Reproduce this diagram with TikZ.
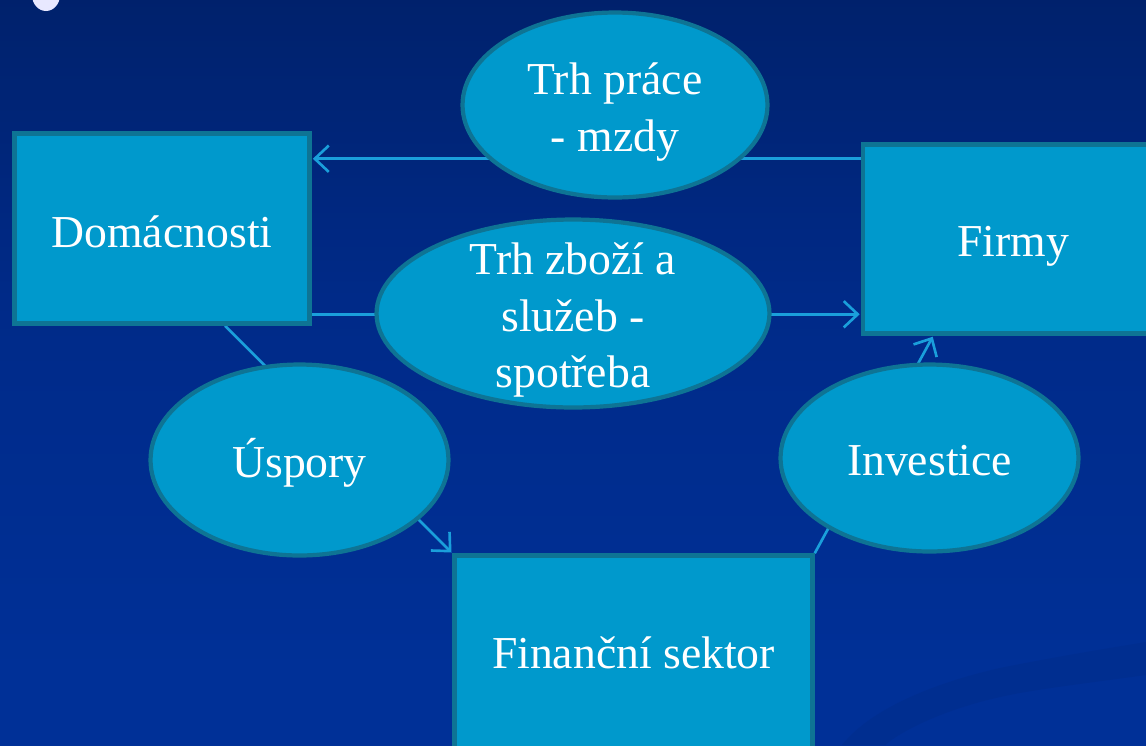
\documentclass[tikz,border=0pt]{standalone}
\usepackage{fontspec}
\setmainfont{Liberation Serif}
\usetikzlibrary{shapes.geometric,arrows.meta,calc}
\definecolor{boxfill}{HTML}{0099CC}
\definecolor{boxedge}{HTML}{0E7494}
\definecolor{conncol}{HTML}{1A9FDB}
\definecolor{bgA}{HTML}{00123E}
\definecolor{bgB}{HTML}{002068}
\definecolor{bgC}{HTML}{002A88}
\definecolor{bgD}{HTML}{003097}
\definecolor{bgE}{HTML}{003399}
\definecolor{arccol}{HTML}{002E90}
\definecolor{lav}{HTML}{E8E8FF}
\pgfdeclarelayer{back}
\pgfdeclarelayer{mid}
\pgfsetlayers{back,mid,main}
\pgfdeclareverticalshading{bgsh}{100bp}{color(0bp)=(bgE); color(30bp)=(bgD); color(55bp)=(bgC); color(78bp)=(bgB); color(100bp)=(bgA)}
\tikzset{
  txt/.style={text=white, font=\fontsize{26}{32.3}\selectfont, align=center},
  box/.style={rectangle, draw=boxedge, fill=boxfill, line width=2.6pt, inner sep=0pt},
  oval/.style={ellipse, draw=boxedge, fill=boxfill, line width=2.4pt, inner sep=0pt},
  conn/.style={draw=conncol, line width=1.5pt},
  arr/.style={-{Straight Barb[length=8pt,width=15pt]}, shorten >=0.6pt}
}
\begin{document}
\begin{tikzpicture}[x=0.02cm, y=-0.02cm]
\useasboundingbox (0,0) rectangle (1146,745);
\begin{pgfonlayer}{back}
  \shade[shading=bgsh] (0,0) rectangle (1146,745);
  \fill[arccol] (842,745) .. controls (870,710) and (930,684) .. (1000,668)
     .. controls (1060,656) and (1110,648) .. (1146,642) -- (1146,675)
     .. controls (1080,684) and (1030,690) .. (1000,697)
     .. controls (950,708) and (905,728) .. (885,745) -- cycle;
  \fill[lav] (46,-5) ellipse [x radius=0.28cm, y radius=0.32cm];
\end{pgfonlayer}

\node[box, minimum width=5.9cm, minimum height=3.8cm,
      label={[txt, yshift=-0.06cm]center:{Domácnosti}}] (dom) at (162,228.5) {};
\node[box, minimum width=6.0cm, minimum height=3.78cm,
      label={[txt, yshift=-0.14cm]center:{Firmy}}] (firmy) at (1013,239) {};
\node[box, minimum width=7.16cm, minimum height=3.9cm,
      label={[txt]center:{Finanční sektor}}] (fin) at (633.5,653) {};

\node[oval, minimum width=6.1cm, minimum height=3.7cm,
      label={[txt, yshift=-0.14cm]center:{Trh práce\\- mzdy}}] (tp) at (615,105) {};
\node[oval, minimum width=7.86cm, minimum height=3.76cm,
      label={[txt, yshift=-0.13cm]center:{Trh zboží a\\služeb -\\spotřeba}}] (tz) at (573,313.5) {};
\node[oval, minimum width=5.96cm, minimum height=3.82cm,
      label={[txt, yshift=-0.06cm]center:{Úspory}}] (usp) at (299.5,460) {};
\node[oval, minimum width=5.96cm, minimum height=3.74cm,
      label={[txt, yshift=-0.06cm]center:{Investice}}] (inv) at (929.5,458) {};

\begin{pgfonlayer}{mid}
  \draw[conn, arr] ([yshift=-0.33cm]firmy.north west) coordinate (a1) -- (dom.east |- a1);
  \draw[conn, arr] ([yshift=0.23cm]dom.south east) coordinate (a2) -- (firmy.west |- a2);
  \draw[conn, arr] ([xshift=1.26cm]dom.south) -- (fin.north west);
  \draw[conn, arr] (fin.north east) -- ([xshift=1.45cm]firmy.south west);
\end{pgfonlayer}
\end{tikzpicture}
\end{document}
